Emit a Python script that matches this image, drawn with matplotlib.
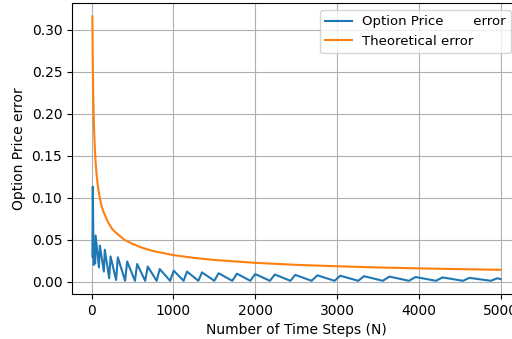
import matplotlib
matplotlib.use("Agg")
import matplotlib.pyplot as plt

# Theoretical error curve
theory_n = [10, 12, 15, 20, 25, 30, 40, 50, 60, 75, 100, 125, 150, 200, 250, 300, 400, 500,
            600, 750, 1000, 1250, 1500, 2000, 2500, 3000, 3500, 4000, 4500, 5000]
theory_err = [0.316, 0.289, 0.258, 0.224, 0.200, 0.183, 0.158, 0.141, 0.129, 0.115, 0.100,
              0.089, 0.082, 0.071, 0.063, 0.058, 0.050, 0.045, 0.041, 0.0365, 0.0316, 0.0283,
              0.0258, 0.0224, 0.0200, 0.0183, 0.0169, 0.0158, 0.0149, 0.0141]

# Option price error: vertices of the saw-tooth (peaks and troughs)
price_n = [10, 15, 25, 45, 49, 90, 101, 150, 162, 215, 232, 300, 321, 410, 435, 530, 557,
           655, 687, 795, 833, 960, 1004, 1125, 1167, 1305, 1350, 1500, 1553, 1720, 1777,
           1940, 2000, 2180, 2240, 2430, 2490, 2690, 2760, 2970, 3040, 3260, 3330, 3560,
           3640, 3880, 3960, 4210, 4290, 4540, 4620, 4880, 4960, 5000]
price_err = [0.030, 0.113, 0.020, 0.022, 0.055, 0.017, 0.043, 0.012, 0.038, 0.004, 0.030,
             0.002, 0.029, 0.001, 0.024, 0.001, 0.021, 0.001, 0.018, 0.001, 0.015, 0.001,
             0.013, 0.001, 0.012, 0.001, 0.011, 0.001, 0.010, 0.001, 0.0095, 0.001, 0.009,
             0.001, 0.0085, 0.001, 0.008, 0.001, 0.0075, 0.001, 0.007, 0.001, 0.0065, 0.001,
             0.006, 0.001, 0.0055, 0.001, 0.005, 0.001, 0.0045, 0.001, 0.004, 0.003]

fig = plt.figure(figsize=(5.12, 3.39), dpi=100)
ax = fig.add_axes([0.1406, 0.1327, 0.877, 0.858])

ax.plot(price_n, price_err, color="#1f77b4", lw=1.5, label="Option Price       error")
ax.plot(theory_n, theory_err, color="#ff7f0e", lw=1.5, label="Theoretical error")

ax.set_xticks([0, 1000, 2000, 3000, 4000, 5000])
ax.set_yticks([0.00, 0.05, 0.10, 0.15, 0.20, 0.25, 0.30])
ax.set_yticklabels(["0.00", "0.05", "0.10", "0.15", "0.20", "0.25", "0.30"])
ax.grid(True, color="#b0b0b0", lw=0.8)
ax.set_xlabel("Number of Time Steps (N)")
ax.set_ylabel("Option Price error")
ax.legend(loc="upper right", bbox_to_anchor=(0.978, 0.976), borderaxespad=0,
          fontsize=9.5)

fig.savefig("out.png", dpi=100)
